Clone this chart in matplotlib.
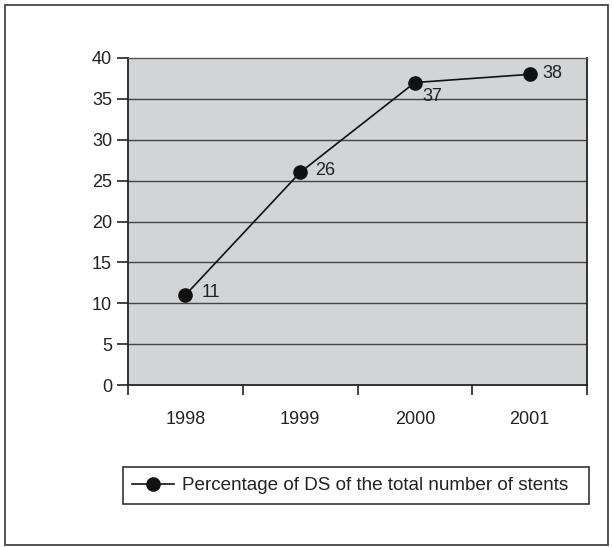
import matplotlib
matplotlib.use("Agg")
import matplotlib.pyplot as plt
from matplotlib.patches import Rectangle
from matplotlib import font_manager

years = ["1998", "1999", "2000", "2001"]
values = [11, 26, 37, 38]
labels = ["11", "26", "37", "38"]
series_name = "Percentage of DS of the total number of stents"
yticks = [0, 5, 10, 15, 20, 25, 30, 35, 40]

names = {f.name for f in font_manager.fontManager.ttflist}
fam = "Liberation Sans Narrow" if "Liberation Sans Narrow" in names else "Liberation Sans"
plt.rcParams['font.family'] = [fam, 'DejaVu Sans']

W, H = 613, 547
fig = plt.figure(figsize=(W/100, H/100), dpi=100)
fig.patch.set_facecolor("white")

# outer border
fig.patches.append(Rectangle((5/W, 2/H), 603/W, 540/H, transform=fig.transFigure,
                             fill=False, edgecolor="#444444", linewidth=1.3))

ax = fig.add_axes([128/W, 1-385/H, (587-128)/W, (385-58)/H])
ax.set_facecolor("#d3d4d6")
x = list(range(len(years)))
ax.plot(x, values, color="#111111", linewidth=1.2, marker="o", markersize=9.5,
        markerfacecolor="#111111", markeredgecolor="#111111", label=series_name, zorder=3)

offsets = [(11.5, 1.5), (11.0, 1.5), (5.5, -10.0), (9.5, 0.5)]
for xi, v, lab, off in zip(x, values, labels, offsets):
    ax.annotate(lab, (xi, v), xytext=off, textcoords="offset points",
                ha="left", va="center", fontsize=13, color="#222222", zorder=4)

ax.set_xlim(-0.5, 3.5)
ax.set_ylim(0, 40)
ax.set_yticks(yticks)
ax.set_yticklabels([str(t) for t in yticks])
for t in yticks[1:-1]:
    ax.axhline(t, color="#444444", linewidth=1.0, zorder=1)

ax.set_xticks([-0.5, 0.5, 1.5, 2.5, 3.5])
ax.set_xticklabels([])
ax.set_xticks(x, minor=True)
ax.set_xticklabels(years, minor=True)
ax.tick_params(axis="x", which="major", direction="out", length=7, width=1.2, color="#222222")
ax.tick_params(axis="x", which="minor", length=0, pad=18.5, labelsize=13, labelcolor="#222222")
ax.tick_params(axis="y", direction="out", length=8, width=1.2, pad=3.5, labelsize=13,
               color="#222222", labelcolor="#222222")

for s in ["left", "bottom", "right"]:
    ax.spines[s].set_color("#222222")
    ax.spines[s].set_linewidth(1.3)
ax.spines["top"].set_color("#555555")
ax.spines["top"].set_linewidth(1.0)

leg = fig.legend(loc="center", bbox_to_anchor=(123/W, 1-507/H, (589-123)/W, 43/H),
                 mode="expand", frameon=True, fancybox=False, edgecolor="#333333",
                 framealpha=1, fontsize=13.6, handlelength=2.2, handletextpad=0.45,
                 borderpad=0.5, borderaxespad=0)
leg.get_frame().set_linewidth(1.2)
for t in leg.get_texts():
    t.set_color("#222222")

fig.savefig("out.png", dpi=100)
